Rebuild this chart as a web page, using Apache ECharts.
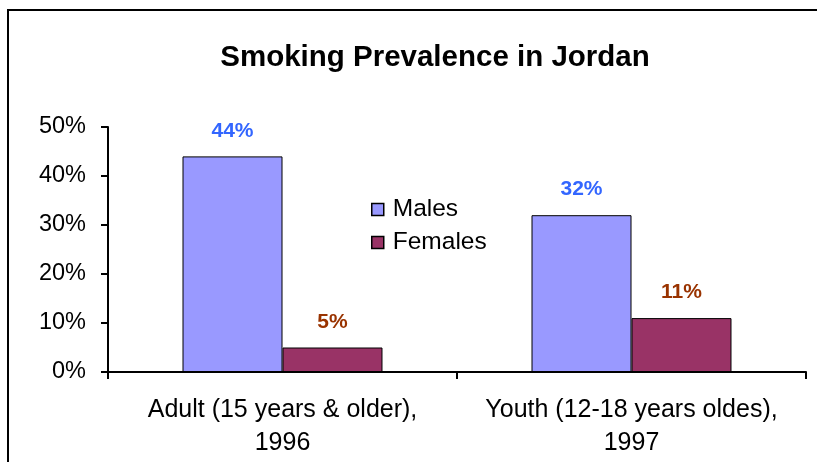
<!DOCTYPE html>
<html>
<head>
<meta charset="utf-8">
<script src="https://cdn.jsdelivr.net/npm/echarts@6/dist/echarts.min.js"></script>
<style>
html,body{margin:0;padding:0;background:#fff;}
#c{width:817px;height:462px;}
</style>
</head>
<body>
<div id="c"></div>
<script>
const categories = ['Adult (15 years & older),\n1996', 'Youth (12-18 years oldes),\n1997'];
const males = [44, 32];
const females = [5, 11];
const yTicks = [0, 10, 20, 30, 40, 50];

const chart = echarts.init(document.getElementById('c'), null, {renderer: 'canvas'});
const font = '"Liberation Sans", Arial, sans-serif';
chart.setOption({
  animation: false,
  backgroundColor: '#fff',
  title: {
    text: 'Smoking Prevalence in Jordan',
    left: 430, top: 38, textAlign: 'center',
    textStyle: {fontFamily: font, fontSize: 29.5, fontWeight: 'bold', color: '#000'}
  },
  legend: {
    orient: 'vertical',
    left: 371, top: 197, padding: 0,
    itemWidth: 12, itemHeight: 12, itemGap: 8,
    icon: 'rect',
    itemStyle: {borderColor: '#000', borderWidth: 1.5},
    textStyle: {fontFamily: font, fontSize: 24.5, lineHeight: 25, color: '#000', padding: [0,0,0,4]},
    data: ['Males', 'Females']
  },
  graphic: [{
    type: 'polyline', silent: true,
    shape: {points: [[8, 462], [8, 10], [817, 10]]},
    style: {stroke: '#000', lineWidth: 2, fill: null}
  }],
  grid: {left: 108, right: 11, top: 127, bottom: 90},
  xAxis: {
    type: 'category',
    data: categories,
    axisLine: {lineStyle: {color: '#000', width: 2}},
    axisTick: {show: true, length: 7, lineStyle: {color: '#000', width: 2}},
    axisLabel: {fontFamily: font, fontSize: 25, color: '#000', lineHeight: 33, margin: 22, interval: 0}
  },
  yAxis: {
    type: 'value', min: 0, max: 50, interval: 10,
    axisLine: {show: true, lineStyle: {color: '#000', width: 2}},
    axisTick: {show: true, length: 7, lineStyle: {color: '#000', width: 2}},
    splitLine: {show: false},
    axisLabel: {fontFamily: font, fontSize: 23.5, color: '#000', margin: 22, padding: [8, 0, 0, 0], formatter: '{value}%'}
  },
  series: [{
    name: 'Males', type: 'bar', data: males,
    barGap: '0%', barCategoryGap: '42.7%',
    itemStyle: {color: '#9999FF', borderColor: '#000', borderWidth: 1},
    label: {show: true, position: 'top', distance: 15, formatter: '{c}%',
      fontFamily: font, fontSize: 21, fontWeight: 'bold', color: '#3366FF'}
  }, {
    name: 'Females', type: 'bar', data: females,
    itemStyle: {color: '#993366', borderColor: '#000', borderWidth: 1},
    label: {show: true, position: 'top', distance: 15, formatter: '{c}%',
      fontFamily: font, fontSize: 21, fontWeight: 'bold', color: '#993300'}
  }]
});
</script>
</body>
</html>
